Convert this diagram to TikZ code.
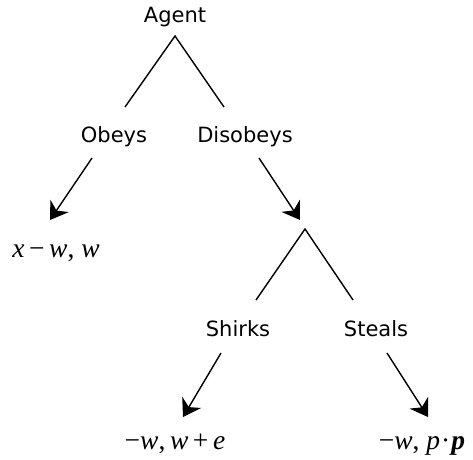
\documentclass[tikz,border=0pt]{standalone}
\usepackage{fontspec}
\usetikzlibrary{arrows.meta}
\newfontfamily\labfont{DejaVu Sans}
\newfontfamily\mthfont{Liberation Serif}
\newcommand\mth[1]{{\mthfont\fontsize{27.5}{30}\selectfont #1}}
\newcommand\mi[1]{\textit{#1}}
\begin{document}
\begin{tikzpicture}[x=1pt,y=-1pt,
  lab/.style={font=\labfont\fontsize{21}{25}\selectfont, anchor=base, inner sep=0pt},
  pay/.style={anchor=base, inner sep=0pt},
  branch/.style={line width=1.4pt},
  move/.style={line width=1.4pt, -{Stealth[length=17pt,width=22pt,inset=5.5pt]}}]
\useasboundingbox (0,0) rectangle (473,459);
% labels
\node[lab] (agent) at (175,22) {Agent};
\node[lab] (obeys) at (114,142) {Obeys};
\node[lab] (disobeys) at (245,142) {Disobeys};
\node[lab] (shirks) at (238,336) {Shirks};
\node[lab] (steals) at (376,336) {Steals};
\node[pay] (p1) at (56,257) {\mth{\mi{x}\,−\,\mi{w}, \mi{w}}};
\node[pay] (p2) at (175,449) {\mth{−\mi{w},\,\mi{w}\,+\,\mi{e}}};
\node[pay] (p3) at (422,449) {\mth{−\mi{w}, \mi{p}\kern1pt·\kern1pt\textbf{\textit{p}}}};
% connector ends
\coordinate (apexA) at (175,36);
\coordinate (apexAl) at (125,107);
\coordinate (apexAr) at (224,107);
\coordinate (obS) at (92,158);
\coordinate (obT) at (50,220);
\coordinate (diS) at (259,158);
\coordinate (diT) at (300,220);
\coordinate (apexB) at (305,229);
\coordinate (apexBl) at (256,300);
\coordinate (apexBr) at (353,300);
\coordinate (shS) at (221,353);
\coordinate (shT) at (183,417);
\coordinate (stS) at (387,353);
\coordinate (stT) at (428,417);
% branches
\draw[branch] (apexAl) -- (apexA) -- (apexAr);
\draw[branch] (apexBl) -- (apexB) -- (apexBr);
\draw[move] (obS) -- (obT);
\draw[move] (diS) -- (diT);
\draw[move] (shS) -- (shT);
\draw[move] (stS) -- (stT);
\end{tikzpicture}
\end{document}
